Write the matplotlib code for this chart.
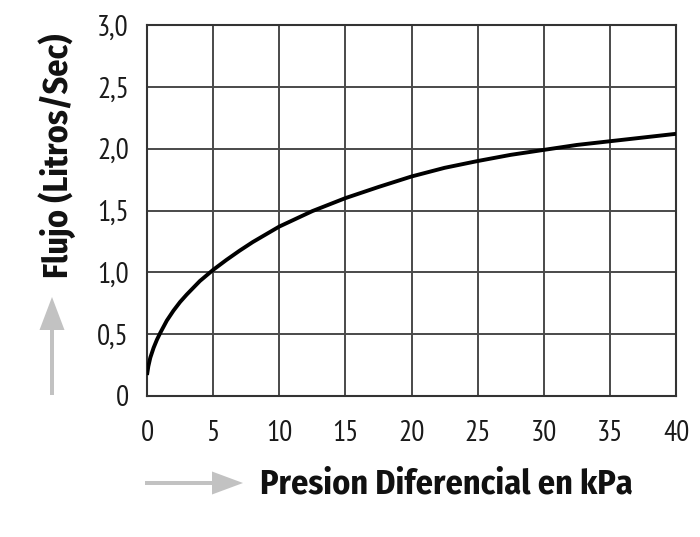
import matplotlib
matplotlib.use("Agg")
import matplotlib.pyplot as plt
from matplotlib.patches import FancyArrow

# valores
presion = [0, 0.1, 0.25, 0.5, 0.75, 1, 1.5, 2, 2.5, 3, 4, 5, 6, 7, 8, 10, 12.5, 15, 17.5, 20,
           22.5, 25, 27.5, 30, 32.5, 35, 37.5, 40]
flujo = [0.17, 0.24, 0.31, 0.39, 0.455, 0.51, 0.61, 0.69, 0.76, 0.82, 0.93, 1.02, 1.10, 1.175,
         1.245, 1.37, 1.495, 1.60, 1.69, 1.775, 1.845, 1.90, 1.95, 1.99, 2.03, 2.06, 2.09, 2.12]

xticks = [0, 5, 10, 15, 20, 25, 30, 35, 40]
yticks = [0, 0.5, 1.0, 1.5, 2.0, 2.5, 3.0]
ylabels = ["0", "0,5", "1,0", "1,5", "2,0", "2,5", "3,0"]

fuente = ["PT Sans Narrow", "DejaVu Sans"]
fuente_tit = ["Fira Sans Condensed", "DejaVu Sans"]

fig = plt.figure(figsize=(7, 5.37), dpi=100)
ax = fig.add_axes([147 / 700, 1 - 396 / 537, 529 / 700, 371 / 537])

ax.plot(presion, flujo, color="black", lw=2.8, solid_capstyle="butt", zorder=3)

ax.set_xlim(0, 40)
ax.set_ylim(0, 3.0)
ax.set_xticks(xticks)
ax.set_yticks(yticks)
ax.set_xticklabels([str(t) for t in xticks], family=fuente, fontsize=21)
ax.set_yticklabels(ylabels, family=fuente, fontsize=21)
ax.tick_params(length=0, colors="#1a1a1a")
ax.tick_params(axis="x", pad=17)
ax.tick_params(axis="y", pad=13)

ax.grid(True, color="#4a4a4a", lw=1.4)
ax.set_axisbelow(True)
for s in ax.spines.values():
    s.set_color("#333333")
    s.set_linewidth(1.5)

fig.text(446 / 700, (537 - 494) / 537, "Presion Diferencial en kPa", family=fuente_tit,
         fontsize=24.5, fontweight="bold", ha="center", va="baseline", color="#111111")
fig.text(57 / 700, 1 - 156 / 537, "Flujo (Litros/Sec)", family=fuente_tit,
         fontsize=24.5, fontweight="bold", rotation=90, ha="center", va="center",
         color="#111111")

gris = "#c2c2c2"
fig.patches.append(FancyArrow(1.45, 0.54, 0.98, 0, width=0.04, head_width=0.23,
                              head_length=0.31, length_includes_head=True,
                              color=gris, lw=0, transform=fig.dpi_scale_trans))
fig.patches.append(FancyArrow(0.52, 1.42, 0, 0.98, width=0.04, head_width=0.25,
                              head_length=0.33, length_includes_head=True,
                              color=gris, lw=0, transform=fig.dpi_scale_trans))

fig.savefig("out.png", dpi=100, facecolor="white")
